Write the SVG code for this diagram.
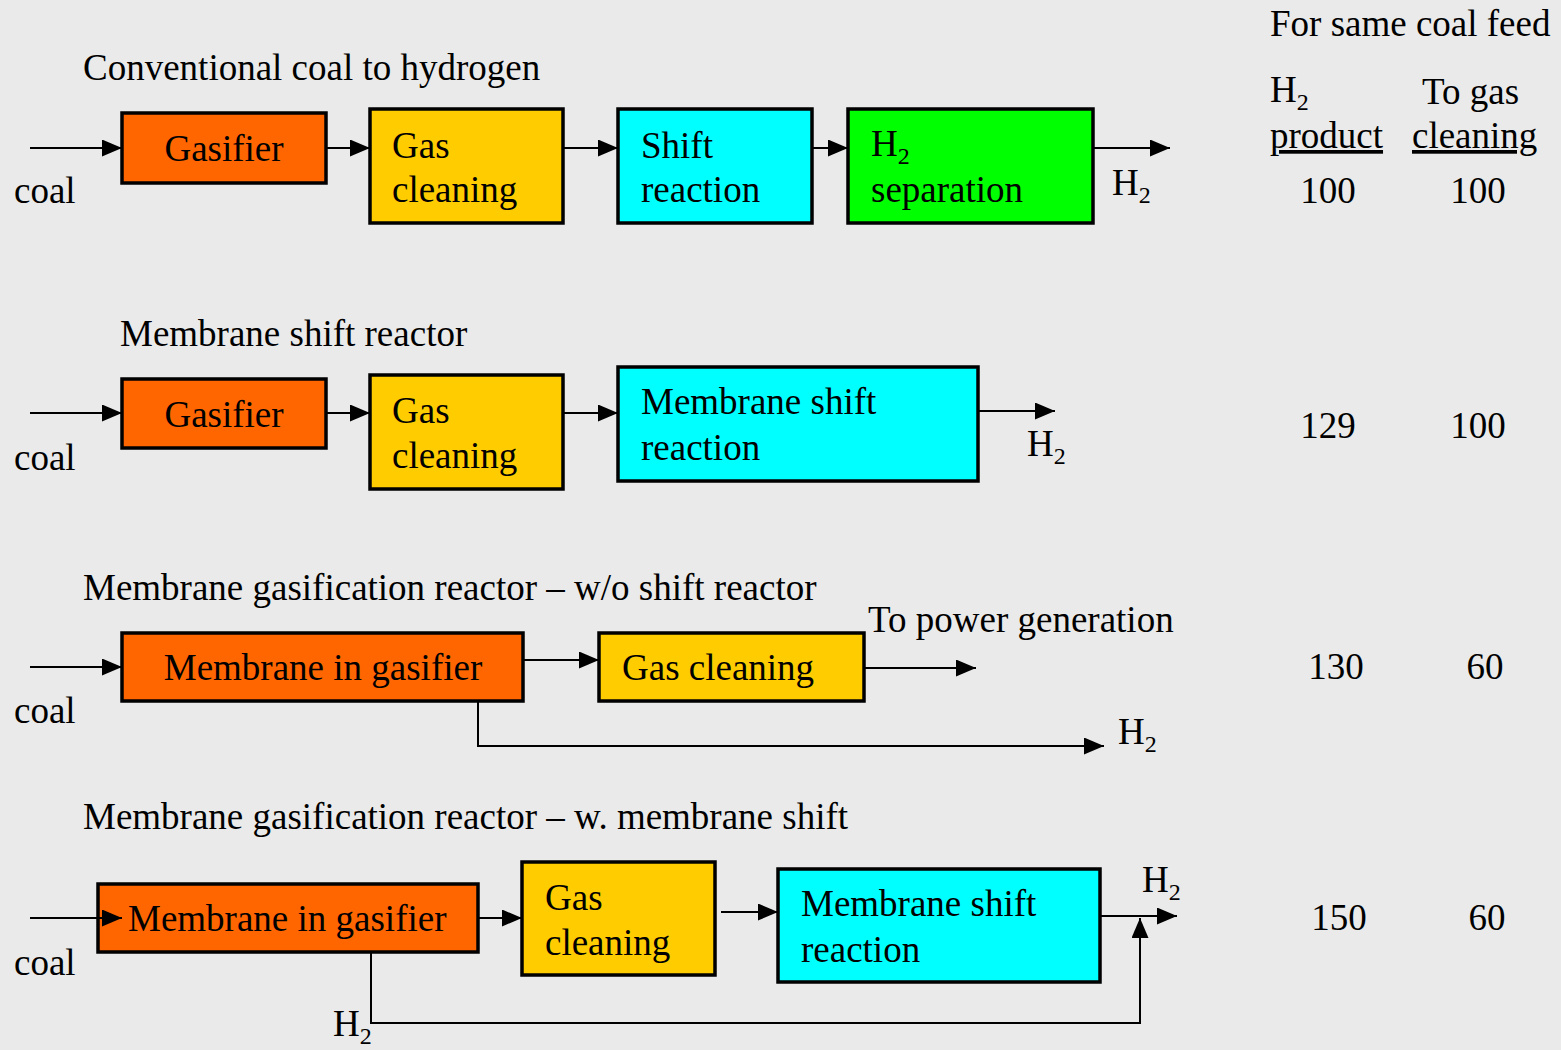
<svg xmlns="http://www.w3.org/2000/svg" width="1561" height="1050" viewBox="0 0 1561 1050">
<defs>
<marker id="ah" viewBox="0 0 20 17" refX="20" refY="8.5" markerWidth="20" markerHeight="17" markerUnits="userSpaceOnUse" orient="auto"><path d="M0,0 L20,8.5 L0,17 Z" fill="#000"/></marker>
<style>
text{font-family:"Liberation Serif","Times New Roman",serif;font-size:37px;fill:#000}
.sub{font-size:24px}
.box{stroke:#000;stroke-width:3.5}
.org{fill:#FF6600}.yel{fill:#FFCC00}.cyn{fill:#00FFFF}.grn{fill:#00FF00}
.c{fill:none;stroke:#000;stroke-width:2;marker-end:url(#ah)}
.mid{text-anchor:middle}
</style>
</defs>
<rect width="1561" height="1050" fill="#EAEAEA"/>

<!-- titles and labels -->
<g id="labels">
<text x="83" y="80">Conventional coal to hydrogen</text>
<text x="120" y="346">Membrane shift reactor</text>
<text x="83" y="600">Membrane gasification reactor – w/o shift reactor</text>
<text x="83" y="829">Membrane gasification reactor – w. membrane shift</text>
<text x="14" y="203">coal</text>
<text x="14" y="470">coal</text>
<text x="14" y="723">coal</text>
<text x="14" y="975">coal</text>
<text x="1112" y="195">H<tspan class="sub" dy="8">2</tspan></text>
<text x="1027" y="456">H<tspan class="sub" dy="8">2</tspan></text>
<text x="868" y="632">To power generation</text>
<text x="1118" y="744">H<tspan class="sub" dy="8">2</tspan></text>
<text x="1142" y="892">H<tspan class="sub" dy="8">2</tspan></text>
<text x="333" y="1036">H<tspan class="sub" dy="8">2</tspan></text>
</g>

<!-- table -->
<g id="table">
<text x="1270" y="36">For same coal feed</text>
<text x="1270" y="102">H<tspan class="sub" dy="8">2</tspan></text>
<text x="1422" y="104">To gas</text>
<text x="1270" y="148" text-decoration="underline">product</text>
<text x="1412" y="148" text-decoration="underline">cleaning</text>
<text class="mid" x="1328" y="203">100</text>
<text class="mid" x="1478" y="203">100</text>
<text class="mid" x="1328" y="438">129</text>
<text class="mid" x="1478" y="438">100</text>
<text class="mid" x="1336" y="679">130</text>
<text class="mid" x="1485" y="679">60</text>
<text class="mid" x="1339" y="930">150</text>
<text class="mid" x="1487" y="930">60</text>
</g>

<!-- row 1 -->
<g id="r1-gasifier"><rect class="box org" x="122" y="113" width="204" height="70"/><text class="mid" x="224" y="161">Gasifier</text></g>
<g id="r1-gascleaning"><rect class="box yel" x="370" y="109" width="193" height="114"/><text x="392" y="158">Gas</text><text x="392" y="202">cleaning</text></g>
<g id="r1-shift"><rect class="box cyn" x="618" y="109" width="194" height="114"/><text x="641" y="158">Shift</text><text x="641" y="202">reaction</text></g>
<g id="r1-h2sep"><rect class="box grn" x="848" y="109" width="245" height="114"/><text x="871" y="156">H<tspan class="sub" dy="8">2</tspan></text><text x="871" y="202">separation</text></g>

<!-- row 2 -->
<g id="r2-gasifier"><rect class="box org" x="122" y="379" width="204" height="69"/><text class="mid" x="224" y="427">Gasifier</text></g>
<g id="r2-gascleaning"><rect class="box yel" x="370" y="375" width="193" height="114"/><text x="392" y="423">Gas</text><text x="392" y="468">cleaning</text></g>
<g id="r2-membshift"><rect class="box cyn" x="618" y="367" width="360" height="114"/><text x="641" y="414">Membrane shift</text><text x="641" y="460">reaction</text></g>

<!-- row 3 -->
<g id="r3-membgasifier"><rect class="box org" x="122" y="633" width="401" height="68"/><text class="mid" x="323" y="680">Membrane in gasifier</text></g>
<g id="r3-gascleaning"><rect class="box yel" x="599" y="633" width="265" height="68"/><text x="622" y="680">Gas cleaning</text></g>

<!-- row 4 -->
<g id="r4-membgasifier"><rect class="box org" x="98" y="884" width="380" height="68"/><text x="128" y="931">Membrane in gasifier</text></g>
<g id="r4-gascleaning"><rect class="box yel" x="522" y="862" width="193" height="113"/><text x="545" y="910">Gas</text><text x="545" y="955">cleaning</text></g>
<g id="r4-membshift"><rect class="box cyn" x="778" y="869" width="322" height="113"/><text x="801" y="916">Membrane shift</text><text x="801" y="962">reaction</text></g>

<!-- connectors -->
<g id="connectors">
<line class="c" x1="30" y1="148" x2="122" y2="148"/>
<line class="c" x1="326" y1="148" x2="370" y2="148"/>
<line class="c" x1="563" y1="148" x2="618" y2="148"/>
<line class="c" x1="812" y1="148" x2="848" y2="148"/>
<line class="c" x1="1093" y1="148" x2="1170" y2="148"/>

<line class="c" x1="30" y1="413" x2="122" y2="413"/>
<line class="c" x1="326" y1="413" x2="370" y2="413"/>
<line class="c" x1="563" y1="413" x2="618" y2="413"/>
<line class="c" x1="978" y1="411" x2="1055" y2="411"/>

<line class="c" x1="30" y1="667" x2="122" y2="667"/>
<line class="c" x1="523" y1="660" x2="599" y2="660"/>
<line class="c" x1="864" y1="668" x2="976" y2="668"/>
<polyline class="c" points="478,701 478,746 1104,746"/>

<line class="c" x1="30" y1="918" x2="122" y2="918"/>
<line class="c" x1="478" y1="918" x2="522" y2="918"/>
<line class="c" x1="721" y1="912" x2="778" y2="912"/>
<line class="c" x1="1100" y1="916" x2="1177" y2="916"/>
<polyline class="c" points="371,952 371,1023 1140,1023 1140,918"/>
</g>
</svg>
